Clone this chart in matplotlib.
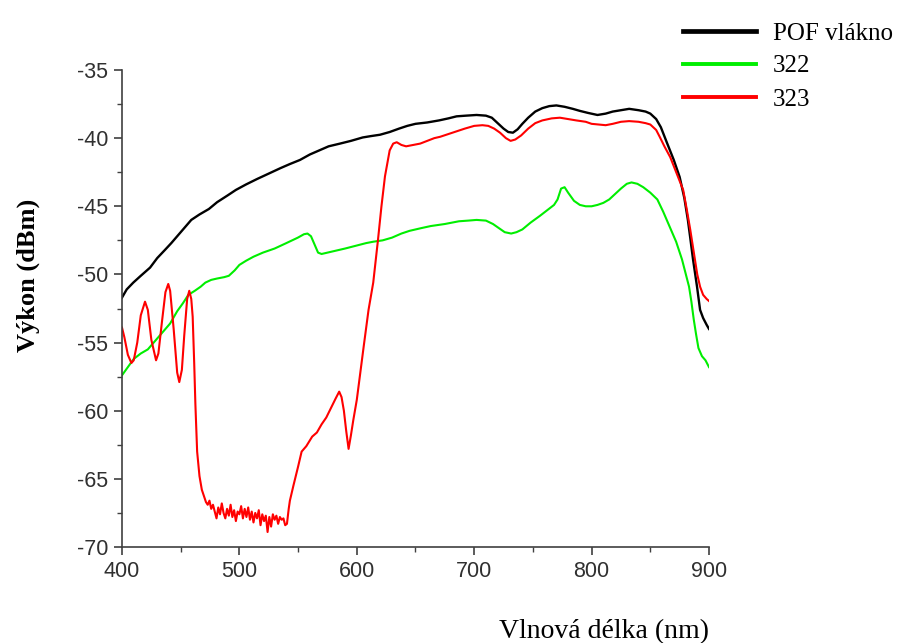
import matplotlib
matplotlib.use("Agg")
import matplotlib.pyplot as plt
from matplotlib.ticker import MultipleLocator

plt.rcParams["axes.unicode_minus"] = False

# --- POF fibre reference spectrum -------------------------------------------
pof_nm = [400, 404, 409.6, 416, 423.9, 430, 436.6, 442, 450, 459, 466, 474, 481,
          490, 497, 505.6, 515, 525, 535, 543, 551.6, 560, 568, 576, 585.7, 595,
          605, 612, 619.8, 628, 636, 643, 650, 660, 670, 678, 685, 693, 702, 710,
          715, 720, 725, 729, 733, 737, 741, 746, 752, 758, 764, 770, 777, 784,
          790, 797, 805, 812, 818, 825, 832, 840, 846, 850, 855, 859, 864, 870,
          875, 879, 882, 884, 886.4, 889.8, 892.4, 895, 898, 900]
pof_dbm = [-51.7, -51.1, -50.6, -50.1, -49.5, -48.8, -48.2, -47.7, -46.9, -46.0,
           -45.6, -45.2, -44.7, -44.2, -43.8, -43.4, -43.0, -42.6, -42.2, -41.9,
           -41.6, -41.2, -40.9, -40.6, -40.4, -40.2, -39.95, -39.85, -39.75,
           -39.55, -39.3, -39.1, -38.95, -38.85, -38.7, -38.55, -38.4, -38.35,
           -38.3, -38.35, -38.5, -38.9, -39.3, -39.55, -39.6, -39.35, -38.95,
           -38.5, -38.05, -37.8, -37.65, -37.6, -37.7, -37.85, -38.0, -38.15,
           -38.3, -38.2, -38.05, -37.95, -37.85, -37.95, -38.05, -38.2, -38.6,
           -39.2, -40.3, -41.6, -42.85, -44.4, -46.0, -47.3, -48.9, -50.9, -52.6,
           -53.2, -53.7, -54.0]

# --- sample 322 ----------------------------------------------------------------
s322_nm = [400, 405, 410, 416, 422, 428, 435, 441, 447, 452, 456.5, 462, 467, 471,
           476, 481, 487, 491, 496, 500, 505.6, 512, 520, 530, 540, 549.8, 555,
           558, 561, 564, 567, 570, 575, 580, 590, 599, 608, 614, 622, 630, 638,
           645, 655, 663, 675, 687, 695, 702, 710, 716, 721, 726, 731.5, 736, 741,
           748, 756, 762, 768, 771, 774, 777, 780, 785, 790, 795, 800, 805, 810,
           815, 820, 825, 830, 834, 839, 844, 850, 856, 861, 867, 872, 877, 880,
           883, 885, 887, 889, 891, 894, 897, 900]
s322_dbm = [-57.4, -56.8, -56.2, -55.8, -55.5, -54.9, -54.2, -53.6, -52.7, -52.1,
            -51.5, -51.2, -50.9, -50.6, -50.4, -50.3, -50.2, -50.1, -49.7, -49.3,
            -49.0, -48.7, -48.4, -48.1, -47.7, -47.3, -47.05, -47.0, -47.2, -47.8,
            -48.4, -48.5, -48.4, -48.3, -48.1, -47.9, -47.7, -47.6, -47.5, -47.3,
            -47.0, -46.8, -46.6, -46.45, -46.3, -46.1, -46.05, -46.0, -46.05,
            -46.3, -46.6, -46.9, -47.0, -46.9, -46.7, -46.2, -45.7, -45.3, -44.9,
            -44.5, -43.7, -43.6, -44.0, -44.6, -44.9, -45.0, -45.0, -44.9, -44.75,
            -44.5, -44.1, -43.7, -43.35, -43.25, -43.35, -43.6, -44.0, -44.5,
            -45.4, -46.6, -47.6, -48.9, -49.9, -50.9, -52.0, -53.3, -54.4, -55.4,
            -56.0, -56.3, -56.8]

# --- sample 323 ----------------------------------------------------------------
s323_nm = [400, 402, 405, 408, 410, 413, 416, 419.6, 422, 425, 429, 431, 434, 437,
           439.4, 441, 444, 447, 448.8, 451, 453, 455.5, 457.3, 459, 460.2, 461.5,
           462.5, 464, 466, 468,
           470, 471.5, 473, 474.5, 476, 477.5, 479, 480.5, 482, 483.5, 485, 486.5,
           488, 489.5, 491, 492.5, 494, 495.5, 497, 498.5, 500, 501.5, 503, 504.5,
           506, 507.5, 509, 510.5, 512, 513.5, 515, 516.5, 518, 519.5, 521, 522.5,
           524, 525.5, 527, 528.5, 530, 531.5, 533, 534.5, 536, 537.5, 539, 540.5,
           542, 543, 546, 550, 553, 557, 562, 566, 570, 574, 578, 582, 585, 587,
           589, 591, 593, 595, 597, 600, 603, 606, 610, 614, 618, 621, 624, 628,
           631, 634, 638, 642, 648, 654, 660, 666, 671, 678, 685, 692, 700, 707,
           712, 717, 722, 727, 731, 735, 740, 746, 752, 758, 766, 773, 780, 787,
           795, 800, 806, 812, 818, 825, 832, 840, 846, 850, 855, 858, 862, 867,
           872, 878, 881, 884, 886, 888, 890, 892.4, 895, 898, 900]
s323_dbm = [-53.9, -54.6, -55.9, -56.5, -56.3, -55.0, -53.0, -52.0, -52.6, -54.8,
            -56.3, -55.8, -53.5, -51.3, -50.7, -51.2, -54.0, -57.2, -57.9, -57.0,
            -54.5, -51.8, -51.2, -51.8, -53.1, -56.5, -59.5, -63.0, -64.8, -65.8,
            -66.3, -66.7, -66.9, -66.6, -67.2, -66.9, -67.4, -67.9, -67.1, -67.6,
            -66.8, -67.5, -67.9, -67.2, -67.7, -66.9, -67.8, -67.3, -68.1, -67.4,
            -67.6, -67.0, -67.9, -67.2, -67.8, -67.1, -68.0, -67.4, -68.2, -67.5,
            -67.9, -67.3, -68.4, -67.6, -68.1, -67.7, -68.9, -67.8, -68.5, -67.6,
            -68.0, -67.7, -68.3, -67.8, -68.0, -67.9, -68.4, -68.3,
            -67.2, -66.6, -65.5, -64.1, -63.0, -62.6, -61.9, -61.6, -61.0, -60.5,
            -59.8, -59.1, -58.6, -59.0, -60.0, -61.5, -62.8, -61.8, -60.7, -59.2,
            -57.2, -55.2, -52.6, -50.6, -47.5, -45.0, -42.8, -40.9, -40.4, -40.3,
            -40.5, -40.6, -40.5, -40.4, -40.2, -40.0, -39.9, -39.7, -39.5, -39.3,
            -39.1, -39.05, -39.1, -39.3, -39.6, -40.0, -40.2, -40.1, -39.8, -39.3,
            -38.9, -38.7, -38.55, -38.5, -38.6, -38.7, -38.8, -38.95, -39.0,
            -39.05, -38.95, -38.8, -38.75, -38.8, -38.9, -39.0, -39.4, -39.9,
            -40.6, -41.4, -42.5, -43.8, -45.2, -46.7, -47.8, -48.9, -50.0, -50.9,
            -51.5, -51.8, -51.95]

series = [
    ("POF vlákno", pof_nm, pof_dbm, "#000000", 1.7, 3.4),
    ("322", s322_nm, s322_dbm, "#00ee00", 1.5, 2.8),
    ("323", s323_nm, s323_dbm, "#ff0000", 1.5, 2.8),
]

x_ticks = [400, 500, 600, 700, 800, 900]
y_ticks = [-35, -40, -45, -50, -55, -60, -65, -70]

W, H = 900, 643
fig = plt.figure(figsize=(W / 100, H / 100), dpi=100)
ax = fig.add_axes([122 / W, 1 - 547 / H, (709 - 122) / W, (547 - 70) / H])

for label, xs, ys, color, lw, _ in series:
    ax.plot(xs, ys, color=color, lw=lw, label=label, solid_joinstyle="round")

ax.set_xlim(400, 900)
ax.set_ylim(-70, -35)
ax.set_xticks(x_ticks)
ax.set_yticks(y_ticks)
ax.xaxis.set_minor_locator(MultipleLocator(50))
ax.yaxis.set_minor_locator(MultipleLocator(2.5))

for side in ("top", "right"):
    ax.spines[side].set_visible(False)
for side in ("left", "bottom"):
    ax.spines[side].set_color("#404040")
    ax.spines[side].set_linewidth(1.2)

ax.tick_params(which="major", direction="out", length=6, width=1.2,
               color="#404040", labelsize=15.5, labelcolor="#303030", pad=4)
ax.tick_params(which="minor", direction="out", length=3.5, width=1.0,
               color="#404040")
for t in ax.get_xticklabels() + ax.get_yticklabels():
    t.set_fontfamily("Liberation Sans")

# axis titles
fig.text(28 / W, 1 - 275 / H, "Výkon (dBm)", rotation=90, ha="center",
         va="center", fontsize=19, fontweight="bold",
         family="Liberation Serif")
fig.text(604 / W, 1 - 638 / H, "Vlnová délka (nm)", ha="center",
         va="baseline", fontsize=20, family="Liberation Serif")

# legend outside the plotting area, top right
leg = fig.legend(loc="upper left", bbox_to_anchor=(683 / W, 1 - 22 / H),
                 frameon=False, borderpad=0, borderaxespad=0,
                 handlelength=2.9, handletextpad=0.7, labelspacing=0.42,
                 prop={"family": "Liberation Serif", "size": 18})
for line, (_, _, _, _, _, leg_lw) in zip(leg.get_lines(), series):
    line.set_linewidth(leg_lw)

fig.savefig("out.png", dpi=100)
